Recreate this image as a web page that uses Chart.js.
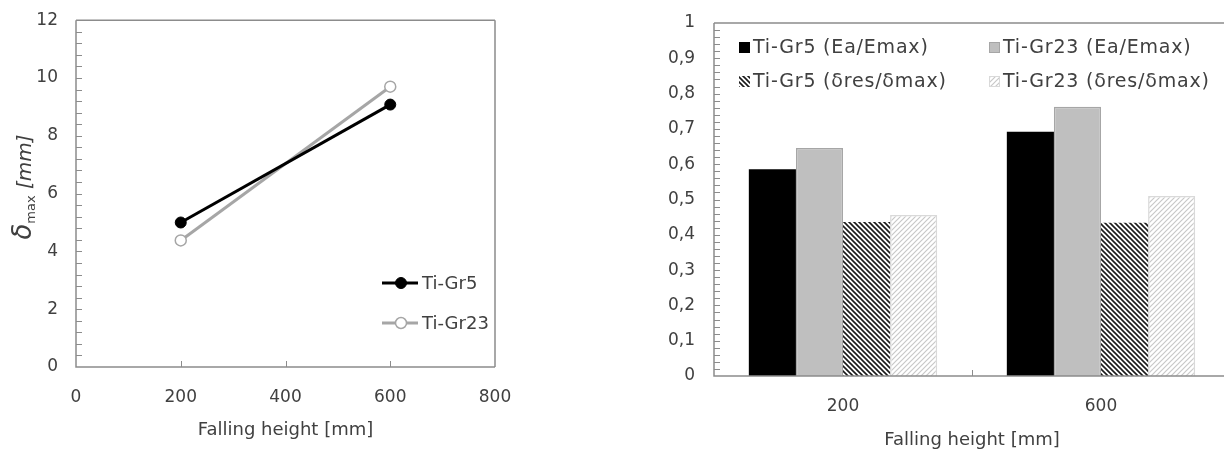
<!DOCTYPE html>
<html>
<head>
<meta charset="utf-8">
<script src="https://cdn.jsdelivr.net/npm/chart.js@4.4.1/dist/chart.umd.min.js"></script>
<style>
  html, body { margin: 0; padding: 0; background: #fff; width: 1224px; height: 456px; overflow: hidden; position: relative; }
  #left { position: absolute; left: 0; top: 0; }
  #right { position: absolute; left: 612px; top: 0; }
</style>
</head>
<body>
<canvas id="left" width="612" height="456"></canvas>
<canvas id="right" width="660" height="456"></canvas>
<script>
// Datos - gráfica izquierda (deflexión máxima)
const heights = [200, 600];
const gr5Delta = [5.0, 9.08];
const gr23Delta = [4.38, 9.7];

// Datos - gráfica derecha (relaciones de energía y desplazamiento)
const barCategories = ['200', '600'];
const gr5Energy = [0.586, 0.692];
const gr23Energy = [0.646, 0.763];
const gr5Disp = [0.436, 0.434];
const gr23Disp = [0.456, 0.51];

const FONT = 'DejaVu Sans';
const TEXT = '#404040';
const AXIS = '#8c8c8c';

Chart.defaults.font.family = FONT;
Chart.defaults.color = TEXT;

// Patrón de rayas diagonales
function hatch(color, bg, dir, lw) {
  const s = 5;
  const c = document.createElement('canvas');
  c.width = s; c.height = s;
  const g = c.getContext('2d');
  g.fillStyle = bg;
  g.fillRect(0, 0, s, s);
  g.strokeStyle = color;
  g.lineWidth = lw;
  g.beginPath();
  if (dir === 'down') {
    g.moveTo(-1, -1); g.lineTo(s + 1, s + 1);
    g.moveTo(-1, s - 1); g.lineTo(1, s + 1);
    g.moveTo(s - 1, -1); g.lineTo(s + 1, 1);
  } else {
    g.moveTo(-1, s + 1); g.lineTo(s + 1, -1);
    g.moveTo(-1, 1); g.lineTo(1, -1);
    g.moveTo(s - 1, s + 1); g.lineTo(s + 1, s - 1);
  }
  g.stroke();
  return g.createPattern(c, 'repeat');
}

// Marco y marcas hacia dentro
function frameTicks(minorStep, count, bottomTicks, rightSide) {
  return {
    id: 'frameTicks',
    afterDraw(chart) {
      const { ctx, chartArea: a, scales } = chart;
      ctx.save();
      ctx.strokeStyle = AXIS;
      ctx.lineWidth = 1.5;
      ctx.beginPath();
      ctx.moveTo(a.left, a.top); ctx.lineTo(a.right, a.top);
      ctx.moveTo(a.left, a.top); ctx.lineTo(a.left, a.bottom); ctx.lineTo(a.right, a.bottom);
      if (rightSide) { ctx.moveTo(a.right, a.top); ctx.lineTo(a.right, a.bottom); }
      ctx.stroke();
      ctx.lineWidth = 1;
      ctx.beginPath();
      for (let i = 1; i < count; i++) {
        const y = Math.round(scales.y.getPixelForValue(i * minorStep)) + 0.5;
        ctx.moveTo(a.left, y);
        ctx.lineTo(a.left + 6, y);
      }
      bottomTicks(scales.x).forEach(px => {
        const x = Math.round(px) + 0.5;
        ctx.moveTo(x, a.bottom);
        ctx.lineTo(x, a.bottom - 6);
      });
      ctx.stroke();
      ctx.restore();
    }
  };
}

// Título del eje Y con subíndice
const yTitlePlugin = {
  id: 'yTitle',
  afterDraw(chart) {
    const ctx = chart.ctx;
    const parts = [
      { t: 'δ', f: 'italic 26px ' + FONT, dy: 0 },
      { t: 'max', f: '13px ' + FONT, dy: 4 },
      { t: ' [mm]', f: 'italic 20px ' + FONT, dy: 0 }
    ];
    ctx.save();
    let total = 0;
    parts.forEach(p => { ctx.font = p.f; p.w = ctx.measureText(p.t).width; total += p.w; });
    ctx.translate(24, 187);
    ctx.rotate(-Math.PI / 2);
    ctx.fillStyle = TEXT;
    ctx.textBaseline = 'alphabetic';
    let x = -total / 2;
    parts.forEach(p => { ctx.font = p.f; ctx.fillText(p.t, x, 7 + p.dy); x += p.w; });
    ctx.restore();
  }
};

// Leyenda interna de la gráfica de líneas
const lineLegendPlugin = {
  id: 'lineLegend',
  afterDraw(chart) {
    const ctx = chart.ctx;
    ctx.save();
    chart.data.datasets.forEach((ds, i) => {
      const y = 283 + i * 40;
      ctx.strokeStyle = ds.borderColor;
      ctx.lineWidth = ds.borderWidth;
      ctx.beginPath();
      ctx.moveTo(382, y); ctx.lineTo(418, y);
      ctx.stroke();
      ctx.beginPath();
      ctx.arc(401, y, ds.pointRadius, 0, Math.PI * 2);
      ctx.fillStyle = ds.pointBackgroundColor;
      ctx.fill();
      ctx.lineWidth = ds.pointBorderWidth;
      ctx.strokeStyle = ds.pointBorderColor;
      ctx.stroke();
      ctx.fillStyle = TEXT;
      ctx.font = '18px ' + FONT;
      ctx.textBaseline = 'middle';
      ctx.fillText(ds.label, 422, y + 1);
    });
    ctx.restore();
  }
};

// Leyenda interna de la gráfica de barras (2 columnas)
const barLegendPlugin = {
  id: 'barLegend',
  afterDraw(chart) {
    const ctx = chart.ctx;
    ctx.save();
    chart.data.datasets.forEach((ds, i) => {
      const x = i % 2 === 0 ? 127 : 377;
      const y = i < 2 ? 47 : 81;
      ctx.fillStyle = ds.backgroundColor;
      ctx.fillRect(x, y - 5, 11, 11);
      if (ds.borderWidth) {
        ctx.strokeStyle = ds.borderColor;
        ctx.lineWidth = 1;
        ctx.strokeRect(x + 0.5, y - 4.5, 10, 10);
      }
      ctx.fillStyle = TEXT;
      ctx.font = '19px ' + FONT;
      ctx.letterSpacing = '0.8px';
      ctx.textBaseline = 'middle';
      ctx.fillText(ds.label, x + 14, y + 1);
    });
    ctx.restore();
  }
};

const tickFont = { size: 17 };
const titleFont = { size: 18 };

// Gráfica izquierda
new Chart(document.getElementById('left'), {
  type: 'line',
  data: {
    datasets: [
      {
        label: 'Ti-Gr5',
        data: heights.map((h, i) => ({ x: h, y: gr5Delta[i] })),
        borderColor: '#000000',
        borderWidth: 3,
        pointRadius: 5.5,
        pointBackgroundColor: '#000000',
        pointBorderColor: '#000000',
        pointBorderWidth: 1
      },
      {
        label: 'Ti-Gr23',
        data: heights.map((h, i) => ({ x: h, y: gr23Delta[i] })),
        borderColor: '#a6a6a6',
        borderWidth: 3,
        pointRadius: 5.5,
        pointBackgroundColor: '#ffffff',
        pointBorderColor: '#a6a6a6',
        pointBorderWidth: 1.5
      }
    ]
  },
  options: {
    responsive: false,
    animation: false,
    layout: { padding: { left: 0, top: 16, right: 117, bottom: 0 } },
    plugins: { legend: { display: false }, tooltip: { enabled: false } },
    scales: {
      x: {
        type: 'linear', min: 0, max: 800,
        ticks: { stepSize: 200, font: tickFont, padding: 12, maxRotation: 0 },
        grid: { display: false },
        border: { display: false },
        title: { display: true, text: 'Falling height [mm]', font: titleFont, padding: { bottom: 15 } },
        afterFit: s => { s.height = 89; }
      },
      y: {
        min: 0, max: 12,
        ticks: { stepSize: 2, font: tickFont, padding: 10 },
        grid: { display: false },
        border: { display: false },
        afterFit: s => { s.width = 76; }
      }
    }
  },
  plugins: [frameTicks(0.4, 30, x => [200, 400, 600].map(v => x.getPixelForValue(v)), true), yTitlePlugin, lineLegendPlugin]
});

// Gráfica derecha
new Chart(document.getElementById('right'), {
  type: 'bar',
  data: {
    labels: barCategories,
    datasets: [
      { label: 'Ti-Gr5 (Ea/Emax)', data: gr5Energy, backgroundColor: '#000000', borderColor: '#3a3a3a', borderWidth: 0 },
      { label: 'Ti-Gr23 (Ea/Emax)', data: gr23Energy, backgroundColor: '#bfbfbf', borderColor: '#a6a6a6', borderWidth: 1.5 },
      { label: 'Ti-Gr5 (δres/δmax)', data: gr5Disp, backgroundColor: hatch('#1a1a1a', '#ffffff', 'down', 1.6), borderColor: '#ffffff', borderWidth: 0 },
      { label: 'Ti-Gr23 (δres/δmax)', data: gr23Disp, backgroundColor: hatch('#c8c8c8', '#ffffff', 'up', 1.2), borderColor: '#d9d9d9', borderWidth: 1.5 }
    ]
  },
  options: {
    responsive: false,
    animation: false,
    layout: { padding: { left: 0, top: 23, right: 42, bottom: 0 } },
    datasets: { bar: { categoryPercentage: 0.73, barPercentage: 1 } },
    plugins: { legend: { display: false }, tooltip: { enabled: false } },
    scales: {
      x: {
        ticks: { font: tickFont, padding: 12, maxRotation: 0 },
        grid: { display: false },
        border: { display: false },
        title: { display: true, text: 'Falling height [mm]', font: titleFont, padding: { bottom: 5 } },
        afterFit: s => { s.height = 80; }
      },
      y: {
        min: 0, max: 1,
        ticks: {
          stepSize: 0.1, font: tickFont, padding: 11,
          callback: v => String(Math.round(v * 10) / 10).replace('.', ',')
        },
        grid: { display: false },
        border: { display: false },
        afterFit: s => { s.width = 102; }
      }
    }
  },
  plugins: [frameTicks(0.02, 50, x => [(x.getPixelForTick(0) + x.getPixelForTick(1)) / 2], false), barLegendPlugin]
});
</script>
</body>
</html>
